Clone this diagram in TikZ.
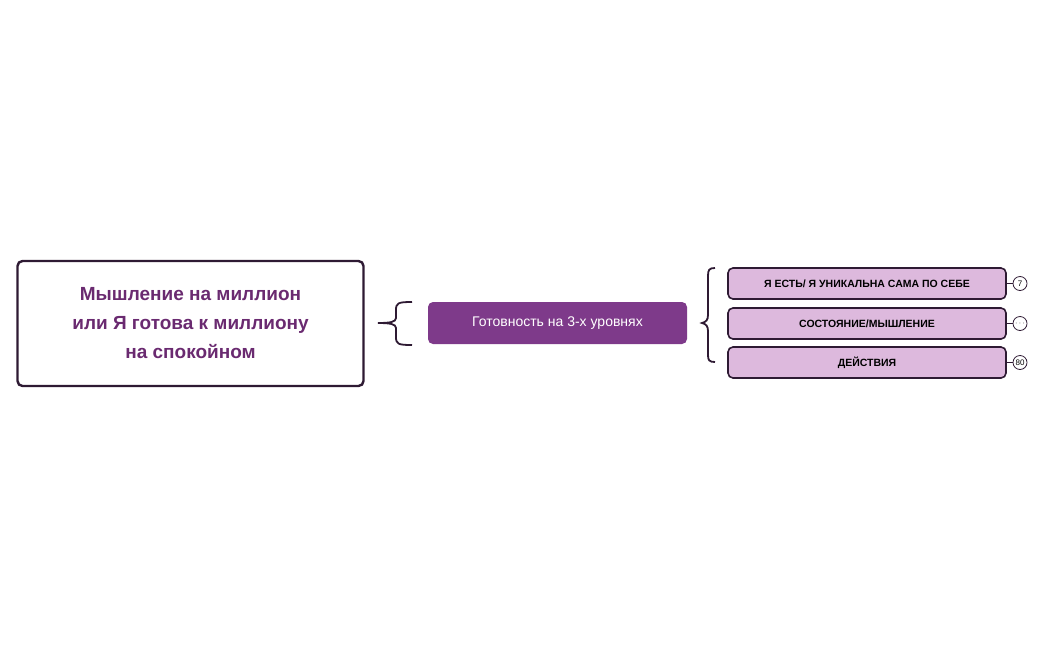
\documentclass[tikz,border=0pt]{standalone}
\usepackage{fontspec}
\setmainfont{Liberation Sans}
\usetikzlibrary{decorations.pathreplacing}
\definecolor{dk}{HTML}{2E1A33}
\definecolor{pur}{HTML}{6A2A70}
\definecolor{mid}{HTML}{7E3A8A}
\definecolor{lt}{HTML}{DDB9DD}
\begin{document}
\begin{tikzpicture}[x=1pt,y=-1pt,
  sub/.style={draw=dk,line width=1.6pt,fill=lt,rounded corners=5pt,minimum width=278pt,minimum height=31pt,inner sep=0pt,font=\fontsize{10.5}{12}\selectfont\bfseries},
  tag/.style={draw=dk,line width=0.8pt,circle,minimum size=14pt,inner sep=0pt,fill=white,font=\fontsize{8}{9}\selectfont},
  br/.style={draw=dk,line width=1.8pt}]
\useasboundingbox (0,0) rectangle (1044,646);
\node[draw=dk,line width=2.4pt,rounded corners=5pt,minimum width=346pt,minimum height=125pt,align=center,text=pur,font=\fontsize{19}{29}\selectfont\bfseries] (root) at (190.5,323.5) {Мышление на миллион\\или Я готова к миллиону\\на спокойном};
\node[fill=mid,rounded corners=5pt,minimum width=259pt,minimum height=42pt,text=white,font=\fontsize{14}{16}\selectfont] (g) at (557.5,323) {Готовность на 3-х уровнях};
\draw[br] (412,302) .. controls (398,302) and (396,303) .. (396,310) -- (396,318) .. controls (396,322) and (390,323) .. (378,323) .. controls (390,323) and (396,324) .. (396,328) -- (396,337) .. controls (396,344) and (398,345) .. (412,345);
\node[sub] (a) at (867,283.5) {Я ЕСТЬ/ Я УНИКАЛЬНА САМА ПО СЕБЕ};
\node[sub] (b) at (867,323.5) {СОСТОЯНИЕ/МЫШЛЕНИЕ};
\node[sub] (c) at (867,362.5) {ДЕЙСТВИЯ};
\draw[br] (715,268) .. controls (709,268) and (708,270) .. (708,276) -- (708,315) .. controls (708,320) and (706,322) .. (702,323) .. controls (706,324) and (708,326) .. (708,331) -- (708,355) .. controls (708,360) and (709,362) .. (715,362);
\node[tag] (ta) at (1020,283.5) {7};
\node[tag] (tb) at (1020,323.5) {$\cdots$};
\node[tag] (tc) at (1020,362.5) {80};
\draw[dk,line width=0.8pt] (a) -- (ta) (b) -- (tb) (c) -- (tc);
\end{tikzpicture}
\end{document}
